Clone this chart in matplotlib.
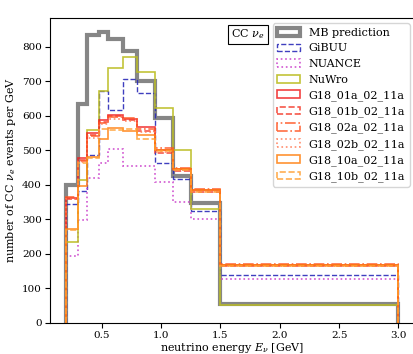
import numpy as np
import matplotlib
matplotlib.use("Agg")
import matplotlib.pyplot as plt

plt.rcParams["font.family"] = "DejaVu Serif"
plt.rcParams["mathtext.fontset"] = "dejavuserif"
plt.rcParams["font.size"] = 7.5

#
# Datos: eventos CC nu_e por GeV en cada bin de energía
#
edges = [0.2, 0.3, 0.375, 0.475, 0.55, 0.675, 0.8, 0.95, 1.1, 1.25, 1.5, 3.0]

mb = [400, 635, 833, 841, 823, 787, 700, 594, 426, 348, 54]
gibuu = [345, 381, 485, 671, 617, 706, 667, 462, 417, 325, 138]
nuance = [193, 298, 420, 464, 504, 454, 454, 409, 350, 300, 127]
nuwro = [235, 414, 558, 671, 739, 771, 725, 621, 500, 330, 53]
g18_01a = [362, 478, 550, 588, 603, 590, 567, 500, 445, 385, 168]
g18_01b = [358, 472, 545, 582, 598, 588, 557, 492, 440, 380, 166]
g18_02a = [366, 470, 540, 580, 595, 592, 560, 505, 448, 388, 170]
g18_02b = [360, 465, 535, 575, 590, 585, 553, 495, 442, 382, 165]
g18_10a = [272, 395, 480, 533, 565, 557, 543, 500, 445, 385, 168]
g18_10b = [268, 463, 478, 561, 558, 562, 531, 497, 442, 380, 166]

centers = 0.5 * (np.array(edges[:-1]) + np.array(edges[1:]))

fig = plt.figure(figsize=(4.13, 3.54), dpi=100)
ax = fig.add_axes([0.120, 0.0876, 0.885, 0.862])

series = [
    ("MB prediction", mb, "gray", "-", 3.0, 0.95),
    ("GiBUU", gibuu, "#2a2ab8", "--", 1.0, 0.9),
    ("NUANCE", nuance, "#cc44cc", ":", 1.2, 0.9),
    ("NuWro", nuwro, "#bcbd22", "-", 1.2, 0.9),
    ("G18_01a_02_11a", g18_01a, "#f02020", "-", 1.2, 0.85),
    ("G18_01b_02_11a", g18_01b, "#f53a2a", "--", 1.2, 0.85),
    ("G18_02a_02_11a", g18_02a, "#ff5522", "-.", 1.2, 0.85),
    ("G18_02b_02_11a", g18_02b, "#ff7a55", ":", 1.2, 0.85),
    ("G18_10a_02_11a", g18_10a, "#ff7f0e", "-", 1.2, 0.85),
    ("G18_10b_02_11a", g18_10b, "#ffa033", "--", 1.2, 0.85),
]

for label, vals, color, ls, lw, alpha in series:
    ax.hist(centers, bins=edges, weights=vals, histtype="step",
            color=color, linestyle=ls, linewidth=lw, alpha=alpha, label=label)

ax.set_ylim(bottom=0)
ax.set_xticks([0.5, 1.0, 1.5, 2.0, 2.5, 3.0])
ax.tick_params(pad=2)
ax.set_xlabel(r"neutrino energy $E_\nu$ [GeV]", labelpad=1, fontsize=8)
ax.set_ylabel(r"number of CC $\nu_e$ events per GeV", labelpad=3, fontsize=8)

ax.legend(loc="upper right", fontsize=8)
ax.text(0.543, 0.946, r"CC $\nu_e$", transform=ax.transAxes, ha="center", va="center",
        fontsize=8,
        bbox=dict(boxstyle="square,pad=0.25", fc="white", ec="black", lw=0.8))

fig.savefig("out.png", dpi=100)
